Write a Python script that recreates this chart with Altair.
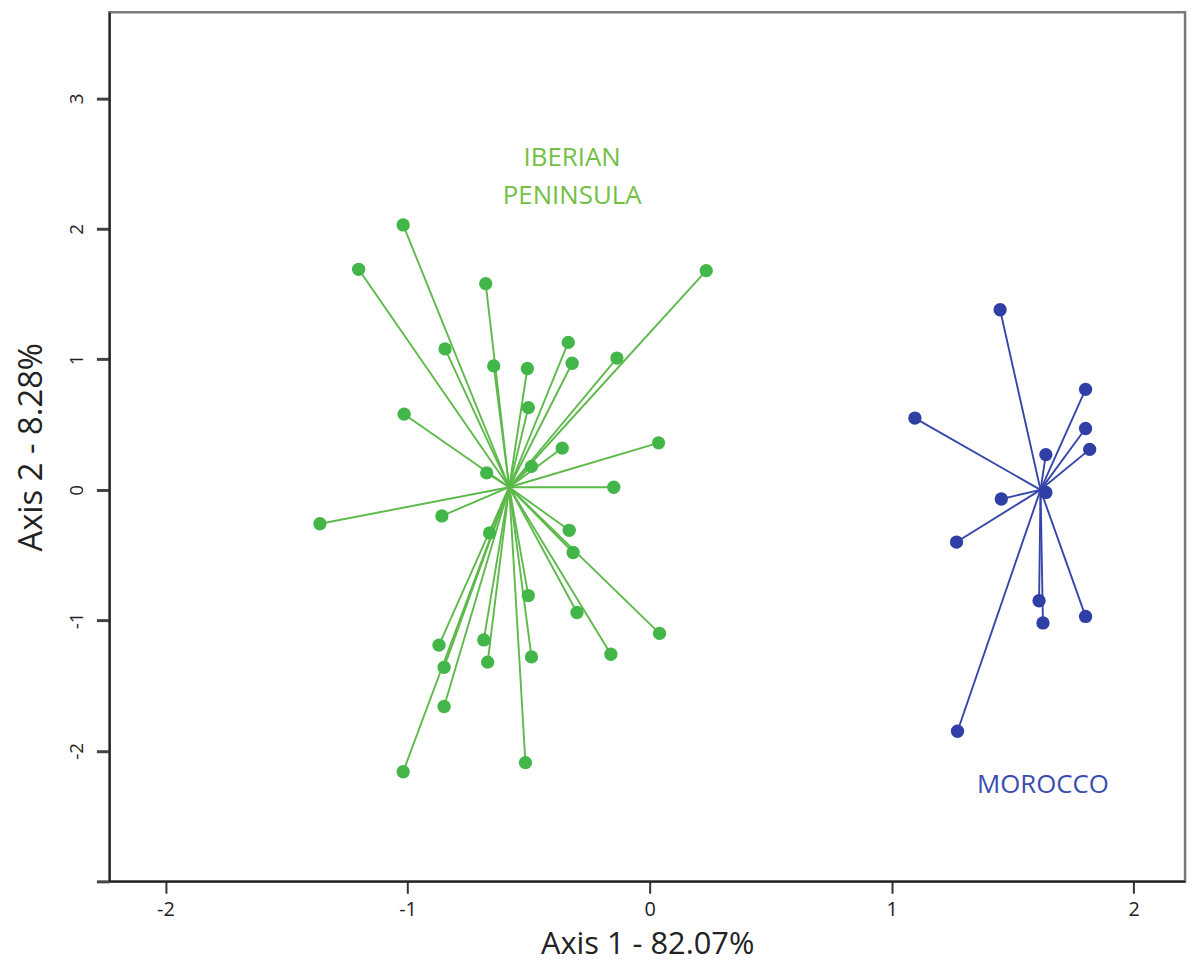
import altair as alt
import pandas as pd

# Iberian Peninsula individuals (Axis 1, Axis 2)
iberia_x = [-1.018, -1.202, -0.677, 0.234, -0.845, -0.644, -0.505, -0.336, -0.320,
            -0.135, -0.501, -1.014, 0.037, -0.361, -0.673, -0.488, -0.148,
            -1.362, -0.858, -0.661, -0.332, -0.316, -0.501, -0.300, 0.041,
            -0.870, -0.685, -0.849, -0.669, -0.488, -0.160, -0.849, -1.018, -0.513]
iberia_y = [2.03, 1.69, 1.58, 1.68, 1.08, 0.95, 0.93, 1.13, 0.97,
            1.01, 0.63, 0.58, 0.36, 0.32, 0.13, 0.18, 0.02,
            -0.26, -0.20, -0.33, -0.31, -0.48, -0.81, -0.94, -1.10,
            -1.19, -1.15, -1.36, -1.32, -1.28, -1.26, -1.66, -2.16, -2.09]
iberia_center = (-0.58, 0.02)

# Morocco individuals
morocco_x = [1.448, 1.096, 1.801, 1.801, 1.818, 1.637, 1.453, 1.637, 1.268,
             1.609, 1.625, 1.801, 1.272]
morocco_y = [1.38, 0.55, 0.77, 0.47, 0.31, 0.27, -0.07, -0.02, -0.40,
             -0.85, -1.02, -0.97, -1.85]
morocco_center = (1.615, 0.0)

groups = ["Iberian Peninsula", "Morocco"]
point_colors = ["#43b649", "#2f3fa6"]
line_colors = ["#5cb94a", "#3545aa"]

label_text = ["IBERIAN", "PENINSULA", "MOROCCO"]
label_x = [-0.32, -0.32, 1.625]
label_y = [2.54, 2.25, -2.262]
label_color = ["#74c045", "#74c045", "#3b4db0"]

x_ticks = [-2, -1, 0, 1, 2]
y_ticks = [-3, -2, -1, 0, 1, 2, 3]

rows = []
for x, y in zip(iberia_x, iberia_y):
    rows.append({"x": x, "y": y, "cx": iberia_center[0], "cy": iberia_center[1], "group": groups[0]})
for x, y in zip(morocco_x, morocco_y):
    rows.append({"x": x, "y": y, "cx": morocco_center[0], "cy": morocco_center[1], "group": groups[1]})
df = pd.DataFrame(rows)

labels = pd.DataFrame({"text": label_text, "x": label_x, "y": label_y, "c": label_color})

xscale = alt.Scale(domain=[-2.232, 2.212], nice=False, zero=False)
yscale = alt.Scale(domain=[-3.0, 3.66], nice=False, zero=False)

xaxis = alt.Axis(values=x_ticks, title="Axis 1 - 82.07%", grid=False,
                 labelExpr="'' + datum.value",
                 tickSize=12, tickWidth=2, tickColor="#333333",
                 domainColor="#222222", domainWidth=2,
                 labelFontSize=20, labelPadding=6, labelColor="#222222",
                 labelFont="Open Sans", titleFont="Open Sans",
                 titleFontSize=31, titleFontWeight="normal", titleColor="#222222",
                 titlePadding=11)
yaxis = alt.Axis(values=y_ticks, title="Axis 2 - 8.28%", grid=False,
                 labelExpr="datum.value == -3 ? '' : '' + datum.value",
                 labelAngle=270, tickSize=13, tickWidth=3, tickColor="#444444",
                 domainColor="#222222", domainWidth=2,
                 labelFontSize=19, labelPadding=10, labelColor="#222222",
                 labelFont="Open Sans", titleFont="Open Sans",
                 titleFontSize=33, titleFontWeight="normal", titleColor="#222222",
                 titlePadding=19)

color_pts = alt.Color("group:N", scale=alt.Scale(domain=groups, range=point_colors), legend=None)
color_lines = alt.Color("group:N", scale=alt.Scale(domain=groups, range=line_colors), legend=None)

base = alt.Chart(df)

lines = base.mark_rule(strokeWidth=1.9).encode(
    x=alt.X("cx:Q", scale=xscale, axis=xaxis),
    y=alt.Y("cy:Q", scale=yscale, axis=yaxis),
    x2="x:Q",
    y2="y:Q",
    color=color_lines,
)

points = base.mark_circle(size=180, opacity=1).encode(
    x=alt.X("x:Q", scale=xscale, axis=xaxis),
    y=alt.Y("y:Q", scale=yscale, axis=yaxis),
    color=color_pts,
)

texts = alt.Chart(labels).mark_text(font="Open Sans", fontSize=26, align="center",
                                    baseline="middle").encode(
    x=alt.X("x:Q", scale=xscale, axis=xaxis),
    y=alt.Y("y:Q", scale=yscale, axis=yaxis),
    text="text:N",
    color=alt.Color("c:N", scale=None),
)

chart = alt.layer(lines, points, texts).resolve_scale(color="independent").properties(
    width=1083,
    height=875,
    autosize=alt.AutoSizeParams(type="none"),
    padding={"left": 102, "top": 1, "right": 6, "bottom": 86},
    background="white",
).configure_view(stroke="#7a7a7a", strokeWidth=2.5)

chart.save("out.html", embed_options={"renderer": "svg", "actions": False})
